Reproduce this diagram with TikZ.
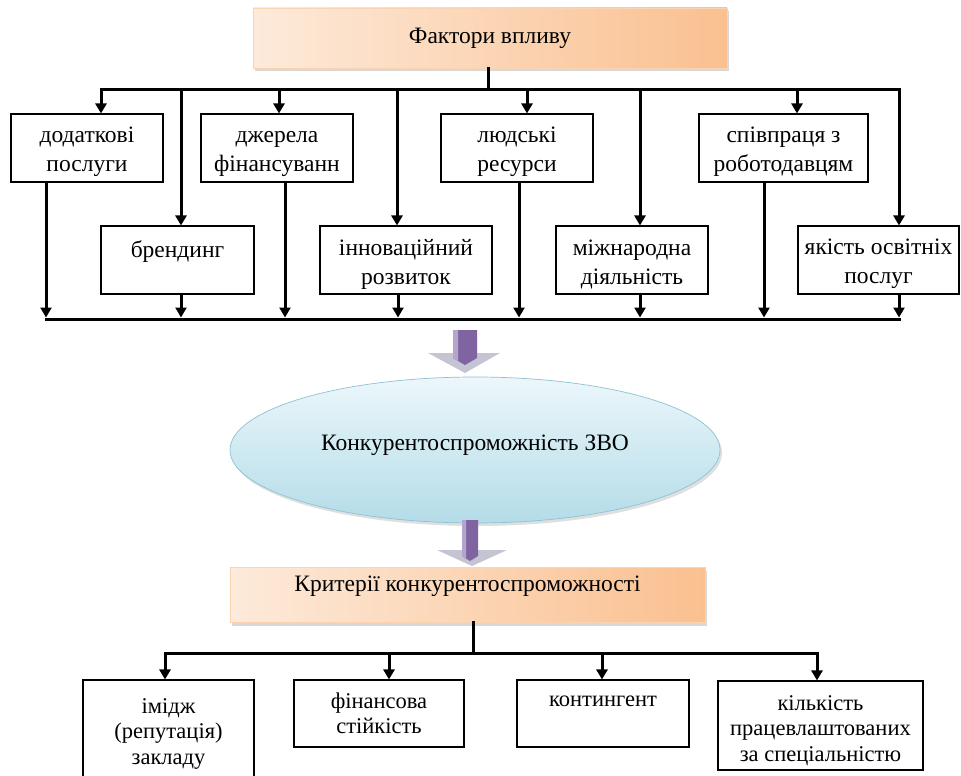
\documentclass[tikz,border=0pt]{standalone}
\usepackage{fontspec}
\setmainfont{Liberation Serif}
\usetikzlibrary{arrows.meta,shadows,shapes.geometric}
\definecolor{peachL}{RGB}{253,234,218}
\definecolor{peachR}{RGB}{250,192,144}
\definecolor{skyT}{RGB}{236,247,251}
\definecolor{skyB}{RGB}{180,220,232}
\definecolor{skyE}{RGB}{140,195,212}
\definecolor{purp}{RGB}{128,100,162}
\definecolor{purpL}{RGB}{180,165,205}
\definecolor{headg}{RGB}{196,196,210}
\newcommand{\myfs}{\fontsize{23.5}{29}\selectfont}
\newcommand{\mysfs}{\fontsize{22.5}{25.5}\selectfont}
\newcommand{\lowr}[1]{\rule{0pt}{#1}}
\begin{document}
\begin{tikzpicture}[x=1pt,y=-1pt,
  box/.style={draw=black, line width=1.1pt, align=center, inner sep=0pt, font=\myfs, fill=white},
  sbox/.style={box, font=\mysfs},
  title/.style={align=center, inner sep=0pt, font=\myfs, left color=peachL, right color=peachR,
    draw=peachR!70!white, line width=0.6pt,
    drop shadow={shadow xshift=2pt,shadow yshift=-3pt,opacity=0.3}},
  ln/.style={line width=3pt, line cap=rect},
  arr/.style={line width=3pt, -{Triangle[length=10pt,width=11pt]}},
]
\useasboundingbox (0,0) rectangle (961,776);
\fill[white] (0,0) rectangle (961,776);

% top title
\node[title, minimum width=474pt, minimum height=60pt] (top) at (490,38) {Фактори впливу};

% factor boxes, upper row
\node[box, minimum width=152pt, minimum height=68pt] (dod) at (87,148) {\lowr{24pt}додаткові\\послуги};
\node[box, minimum width=152pt, minimum height=68pt] (dzh) at (277,148) {\lowr{24pt}джерела\\фінансуванн};
\node[box, minimum width=152pt, minimum height=68pt] (lyud) at (517,148) {\lowr{24pt}людські\\ресурси};
\node[box, minimum width=169pt, minimum height=68pt] (spiv) at (783.5,148) {\lowr{24pt}співпраця з\\роботодавцям};
% factor boxes, lower row
\node[box, minimum width=153pt, minimum height=68pt] (brend) at (177.5,260) {\lowr{24pt}брендинг\\\mbox{}};
\node[box, minimum width=172pt, minimum height=68pt] (innov) at (406,260) {\lowr{24pt}інноваційний\\розвиток};
\node[box, minimum width=152pt, minimum height=68pt] (mizh) at (632,260) {\lowr{24pt}міжнародна\\діяльність};
\node[box, minimum width=161pt, minimum height=68pt] (yak) at (878.5,260) {\lowr{24pt}якість освітніх\\послуг};

% upper bus
\coordinate (tj) at (488,89);
\coordinate (t1) at (101,89);
\coordinate (t2) at (181,89);
\coordinate (t3) at (279,89);
\coordinate (t4) at (397,89);
\coordinate (t5) at (527,89);
\coordinate (t6) at (640,89);
\coordinate (t7) at (797,89);
\coordinate (t8) at (899,89);
\draw[ln] (top.south -| tj) -- (tj);
\draw[ln] (t1) -- (t8);
\draw[arr] (t1) -- (t1 |- dod.north);
\draw[arr] (t2) -- (t2 |- brend.north);
\draw[arr] (t3) -- (t3 |- dzh.north);
\draw[arr] (t4) -- (t4 |- innov.north);
\draw[arr] (t5) -- (t5 |- lyud.north);
\draw[arr] (t6) -- (t6 |- mizh.north);
\draw[arr] (t7) -- (t7 |- spiv.north);
\draw[arr] (t8) -- (t8 |- yak.north);

% lower bus
\coordinate (b1) at (46,319);
\coordinate (b2) at (181,319);
\coordinate (b3) at (285,319);
\coordinate (b4) at (398,319);
\coordinate (b5) at (519,319);
\coordinate (b6) at (640,319);
\coordinate (b7) at (764,319);
\coordinate (b8) at (899,319);
\draw[ln] (b1) -- (b8);
\draw[arr, shorten >=1.5pt] (b1 |- dod.south) -- (b1);
\draw[arr, shorten >=1.5pt] (b2 |- brend.south) -- (b2);
\draw[arr, shorten >=1.5pt] (b3 |- dzh.south) -- (b3);
\draw[arr, shorten >=1.5pt] (b4 |- innov.south) -- (b4);
\draw[arr, shorten >=1.5pt] (b5 |- lyud.south) -- (b5);
\draw[arr, shorten >=1.5pt] (b6 |- mizh.south) -- (b6);
\draw[arr, shorten >=1.5pt] (b7 |- spiv.south) -- (b7);
\draw[arr, shorten >=1.5pt] (b8 |- yak.south) -- (b8);

% fat arrow 1
\fill[headg] (428,353) -- (500,353) -- (465,373) -- cycle;
\fill[purp] (453,330) -- (477,330) -- (477,358) -- (465,365) -- (453,358) -- cycle;
\fill[purpL] (453,330) -- (458,330) -- (458,361) -- (453,358) -- cycle;

% ellipse
\node[ellipse, minimum width=490pt, minimum height=146pt, top color=skyT, bottom color=skyB,
  draw=skyE, line width=0.7pt, font=\myfs, text depth=15pt,
  drop shadow={shadow xshift=2pt,shadow yshift=-3pt,opacity=0.25}] (zvo) at (475,450)
  {Конкурентоспроможність ЗВО};

% fat arrow 2
\fill[headg] (437,550) -- (507,550) -- (472,566) -- cycle;
\fill[purp] (462,520) -- (478,520) -- (478,556) -- (470,561) -- (462,556) -- cycle;
\fill[purpL] (462,520) -- (466,520) -- (466,559) -- (462,556) -- cycle;

% criteria title
\node[title, minimum width=475pt, minimum height=55pt, text depth=22pt] (crit) at (467.5,595) {Критерії конкурентоспроможності};

% criteria boxes
\node[sbox, minimum width=171pt, minimum height=98pt] (imi) at (168.5,729) {\lowr{24.5pt}імідж\\(репутація)\\закладу};
\node[sbox, minimum width=170pt, minimum height=67pt] (fin) at (379,713.5) {фінансова\\стійкість};
\node[sbox, minimum width=172pt, minimum height=67pt] (kont) at (603,713.5) {контингент\\\mbox{}};
\node[sbox, minimum width=205pt, minimum height=89pt] (kilk) at (820.5,725.5) {\lowr{24.5pt}кількість\\працевлаштованих\\за спеціальністю};

% criteria bus
\coordinate (cj) at (473,653);
\coordinate (c1) at (165,653);
\coordinate (c2) at (389,653);
\coordinate (c3) at (602,653);
\coordinate (c4) at (817,653);
\draw[ln] (crit.south -| cj) -- (cj);
\draw[ln] (c1) -- (c4);
\draw[arr] (c1) -- (c1 |- imi.north);
\draw[arr] (c2) -- (c2 |- fin.north);
\draw[arr] (c3) -- (c3 |- kont.north);
\draw[arr] (c4) -- (c4 |- kilk.north);
\end{tikzpicture}
\end{document}
